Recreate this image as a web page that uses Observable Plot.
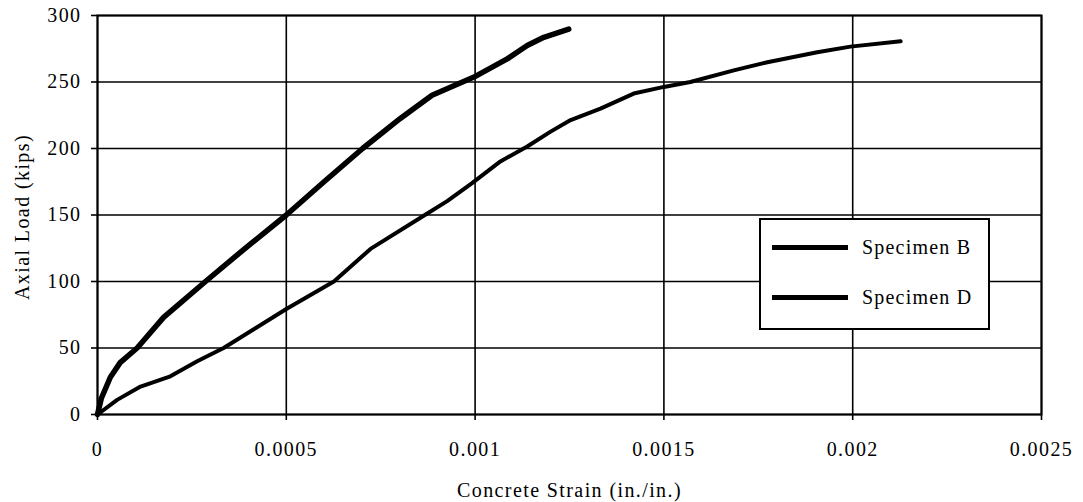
<!DOCTYPE html>
<html>
<head>
<meta charset="utf-8">
<script src="https://cdn.jsdelivr.net/npm/d3@7"></script>
<script src="https://cdn.jsdelivr.net/npm/@observablehq/plot@0.6"></script>
<style>
  html, body { margin: 0; padding: 0; background: #fff; }
  #wrap { position: relative; width: 1083px; height: 502px; font-family: "Liberation Serif", "DejaVu Serif", serif; }
  #wrap svg text { letter-spacing: 1.4px; }
  #legend { position: absolute; left: 759px; top: 218px; width: 227px; height: 108px; border: 2px solid #000; background: #fff; }
  .row { position: absolute; left: 0; display: flex; align-items: center; }
  .swatch { width: 76px; background: #000; margin-left: 11px; }
  .lab { margin-left: 14px; font-size: 20px; letter-spacing: 1.2px; color: #000; }
</style>
</head>
<body>
<div id="wrap"></div>
<script>
// ---- data ----
const seriesNames = ["Specimen B", "Specimen D"];
const strainB = [0, 0.00001, 0.000034, 0.00006, 0.000105, 0.000175, 0.000286, 0.000387, 0.0005, 0.0006, 0.000702, 0.000802, 0.000838, 0.000886, 0.000997, 0.001085, 0.001138, 0.001182, 0.001248];
const loadB   = [0, 12, 28, 39, 50, 73, 100, 124, 150, 175, 200, 222.6, 230, 240, 253.7, 267.4, 277.4, 283.6, 289.8];
const strainD = [0, 0.000052, 0.000114, 0.000193, 0.000264, 0.000334, 0.0005, 0.000626, 0.000723, 0.000867, 0.000926, 0.000992, 0.001067, 0.001138, 0.0012, 0.001253, 0.001332, 0.00142, 0.0015, 0.00157, 0.001685, 0.001774, 0.001906, 0.001994, 0.002127];
const loadD   = [0, 11, 21, 28.7, 40, 50, 79.3, 100, 124.5, 150, 160.4, 174, 190.3, 201.5, 212.7, 221.4, 230, 241.3, 246.3, 250, 258.7, 264.9, 272.4, 276.6, 280.6];
const xTicks = [0, 0.0005, 0.001, 0.0015, 0.002, 0.0025];
const xTickLabels = ["0", "0.0005", "0.001", "0.0015", "0.002", "0.0025"];
const yTicks = [0, 50, 100, 150, 200, 250, 300];
const xTitle = "Concrete Strain (in./in.)";
const yTitle = "Axial Load (kips)";

const B = strainB.map((s, i) => ({strain: s, load: loadB[i]}));
const D = strainD.map((s, i) => ({strain: s, load: loadD[i]}));

const chart = Plot.plot({
  width: 1083,
  height: 502,
  marginTop: 15,
  marginBottom: 88,
  marginLeft: 97,
  marginRight: 42,
  style: {fontFamily: "'Liberation Serif', serif", fontSize: "20px", color: "#000", background: "#fff", overflow: "visible"},
  x: {domain: [0, 0.0025]},
  y: {domain: [0, 300]},
  marks: [
    Plot.ruleX(xTicks, {stroke: "#000", strokeWidth: 1.6}),
    Plot.ruleY(yTicks, {stroke: "#000", strokeWidth: 1.6}),
    Plot.frame({stroke: "#000", strokeWidth: 2}),
    Plot.axisX({ticks: xTicks, tickFormat: (d, i) => xTickLabels[i], tickSize: 6, tickPadding: 21, label: null, fontSize: 20, strokeWidth: 1.6}),
    Plot.axisY({ticks: yTicks, tickSize: 6, tickPadding: 10, label: null, fontSize: 20, strokeWidth: 1.6}),
    Plot.text([xTitle], {text: d => d, frameAnchor: "bottom", lineAnchor: "middle", textAnchor: "middle", dy: 76, fontSize: 20}),
    Plot.text([yTitle], {text: d => d, frameAnchor: "left", lineAnchor: "middle", textAnchor: "middle", rotate: -90, dx: -75, dy: 2, fontSize: 20}),
    Plot.line(D, {x: "strain", y: "load", stroke: "#000", strokeWidth: 4, strokeLinejoin: "round", strokeLinecap: "round"}),
    Plot.line(B, {x: "strain", y: "load", stroke: "#000", strokeWidth: 5.5, strokeLinejoin: "round", strokeLinecap: "round"})
  ]
});
const wrap = document.getElementById("wrap");
wrap.appendChild(chart);

// legend box overlaid inside the plot area
const legend = document.createElement("div");
legend.id = "legend";
const rowTops = [13, 63];
const widths = [5, 5];
seriesNames.forEach((name, i) => {
  const row = document.createElement("div");
  row.className = "row";
  row.style.top = rowTops[i] + "px";
  row.style.height = "28px";
  const sw = document.createElement("div");
  sw.className = "swatch";
  sw.style.height = widths[i] + "px";
  const lab = document.createElement("span");
  lab.className = "lab";
  lab.textContent = name;
  row.appendChild(sw);
  row.appendChild(lab);
  legend.appendChild(row);
});
wrap.appendChild(legend);
</script>
</body>
</html>
